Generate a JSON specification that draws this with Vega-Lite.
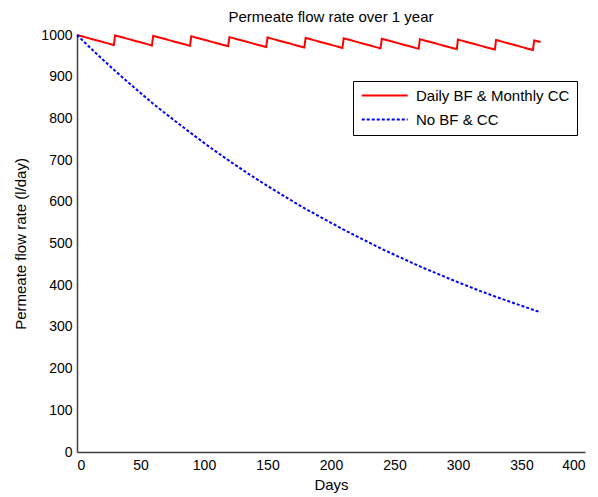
{
  "$schema": "https://vega.github.io/schema/vega-lite/v6.json",
  "width": 508,
  "height": 417,
  "autosize": "none",
  "padding": {"left": 77, "top": 35, "right": 13, "bottom": 45},
  "background": "white",
  "title": {"text": "Permeate flow rate over 1 year", "fontSize": 15, "fontWeight": "normal", "font": "Liberation Sans", "color": "black", "offset": 3},
  "data": {
    "values": [
      {"series": "Daily BF & Monthly CC", "day": 0, "flow": 1000},
      {"series": "Daily BF & Monthly CC", "day": 29, "flow": 976},
      {"series": "Daily BF & Monthly CC", "day": 30, "flow": 999},
      {"series": "Daily BF & Monthly CC", "day": 59, "flow": 975},
      {"series": "Daily BF & Monthly CC", "day": 60, "flow": 998},
      {"series": "Daily BF & Monthly CC", "day": 89, "flow": 974},
      {"series": "Daily BF & Monthly CC", "day": 90, "flow": 997},
      {"series": "Daily BF & Monthly CC", "day": 119, "flow": 973},
      {"series": "Daily BF & Monthly CC", "day": 120, "flow": 995},
      {"series": "Daily BF & Monthly CC", "day": 149, "flow": 971},
      {"series": "Daily BF & Monthly CC", "day": 150, "flow": 994},
      {"series": "Daily BF & Monthly CC", "day": 179, "flow": 970},
      {"series": "Daily BF & Monthly CC", "day": 180, "flow": 993},
      {"series": "Daily BF & Monthly CC", "day": 209, "flow": 969},
      {"series": "Daily BF & Monthly CC", "day": 210, "flow": 992},
      {"series": "Daily BF & Monthly CC", "day": 239, "flow": 968},
      {"series": "Daily BF & Monthly CC", "day": 240, "flow": 991},
      {"series": "Daily BF & Monthly CC", "day": 269, "flow": 967},
      {"series": "Daily BF & Monthly CC", "day": 270, "flow": 990},
      {"series": "Daily BF & Monthly CC", "day": 299, "flow": 966},
      {"series": "Daily BF & Monthly CC", "day": 300, "flow": 989},
      {"series": "Daily BF & Monthly CC", "day": 329, "flow": 965},
      {"series": "Daily BF & Monthly CC", "day": 330, "flow": 988},
      {"series": "Daily BF & Monthly CC", "day": 359, "flow": 964},
      {"series": "Daily BF & Monthly CC", "day": 360, "flow": 987},
      {"series": "Daily BF & Monthly CC", "day": 365, "flow": 983},
      {"series": "No BF & CC", "day": 0, "flow": 1000},
      {"series": "No BF & CC", "day": 15, "flow": 956},
      {"series": "No BF & CC", "day": 30, "flow": 914},
      {"series": "No BF & CC", "day": 45, "flow": 874},
      {"series": "No BF & CC", "day": 60, "flow": 835},
      {"series": "No BF & CC", "day": 75, "flow": 799},
      {"series": "No BF & CC", "day": 90, "flow": 764},
      {"series": "No BF & CC", "day": 105, "flow": 730},
      {"series": "No BF & CC", "day": 120, "flow": 698},
      {"series": "No BF & CC", "day": 135, "flow": 667},
      {"series": "No BF & CC", "day": 150, "flow": 638},
      {"series": "No BF & CC", "day": 165, "flow": 610},
      {"series": "No BF & CC", "day": 180, "flow": 583},
      {"series": "No BF & CC", "day": 195, "flow": 558},
      {"series": "No BF & CC", "day": 210, "flow": 533},
      {"series": "No BF & CC", "day": 225, "flow": 510},
      {"series": "No BF & CC", "day": 240, "flow": 487},
      {"series": "No BF & CC", "day": 255, "flow": 466},
      {"series": "No BF & CC", "day": 270, "flow": 445},
      {"series": "No BF & CC", "day": 285, "flow": 426},
      {"series": "No BF & CC", "day": 300, "flow": 407},
      {"series": "No BF & CC", "day": 315, "flow": 389},
      {"series": "No BF & CC", "day": 330, "flow": 372},
      {"series": "No BF & CC", "day": 345, "flow": 356},
      {"series": "No BF & CC", "day": 360, "flow": 340},
      {"series": "No BF & CC", "day": 365, "flow": 335}
    ]
  },
  "mark": {"type": "line", "strokeWidth": 2, "clip": false},
  "encoding": {
    "x": {
      "field": "day", "type": "quantitative",
      "scale": {"domain": [0, 400], "nice": false},
      "axis": {
        "values": [0, 50, 100, 150, 200, 250, 300, 350, 400],
        "title": "Days", "titlePadding": 5, "labelPadding": 6,
        "encode": {"ticks": {"update": {"y2": {"value": -5}}}}
      }
    },
    "y": {
      "field": "flow", "type": "quantitative",
      "scale": {"domain": [0, 1000], "nice": false},
      "axis": {
        "values": [0, 100, 200, 300, 400, 500, 600, 700, 800, 900, 1000],
        "format": "d", "title": "Permeate flow rate (l/day)", "titlePadding": 12, "labelPadding": 5,
        "encode": {"ticks": {"update": {"x2": {"value": 5}}}}
      }
    },
    "color": {
      "field": "series", "type": "nominal",
      "scale": {"domain": ["Daily BF & Monthly CC", "No BF & CC"], "range": ["#ff0000", "#0000ff"]},
      "legend": {"title": null}
    },
    "strokeDash": {
      "field": "series", "type": "nominal",
      "scale": {"domain": ["Daily BF & Monthly CC", "No BF & CC"], "range": [[1, 0], [3, 2]]},
      "legend": {"title": null}
    }
  },
  "config": {
    "view": {"stroke": null},
    "axis": {
      "grid": false,
      "domainColor": "#404040",
      "domainWidth": 1.5,
      "tickColor": "#202020",
      "tickSize": 0,
      "tickWidth": 1.2,
      "ticks": true,
      "labelFont": "Liberation Sans",
      "labelFontSize": 14,
      "labelColor": "black",
      "titleFont": "Liberation Sans",
      "titleFontSize": 15,
      "titleFontWeight": "normal",
      "titleColor": "black"
    },
    "legend": {
      "orient": "none",
      "legendX": 276,
      "legendY": 46,
      "strokeColor": "black",
      "fillColor": "white",
      "padding": 7,
      "symbolType": "M-1,0H7",
      "symbolSize": 132,
      "symbolStrokeWidth": 2,
      "labelFont": "Liberation Sans",
      "labelFontSize": 15,
      "labelColor": "black",
      "labelOffset": 41,
      "rowPadding": 8
    }
  }
}
